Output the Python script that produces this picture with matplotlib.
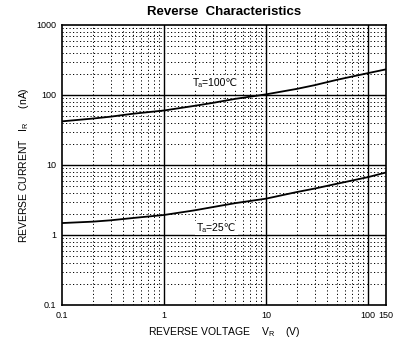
import matplotlib
matplotlib.use("Agg")
import matplotlib.pyplot as plt
import numpy as np

plt.rcParams['font.family'] = ['Liberation Sans', 'DejaVu Sans']
plt.rcParams['mathtext.fontset'] = 'custom'
plt.rcParams['mathtext.rm'] = 'Liberation Sans'

# reverse voltage (V)
vr = [0.1, 0.2, 0.3, 0.5, 1, 2, 3, 5, 10, 20, 30, 50, 100, 150]
# reverse current (nA)
ir_100 = [42, 46, 49, 54, 60, 70, 77, 88, 102, 122, 138, 165, 205, 232]
ir_25 = [1.48, 1.55, 1.62, 1.75, 1.93, 2.25, 2.5, 2.85, 3.3, 4.1, 4.6, 5.4, 6.7, 7.8]

xticks = [0.1, 1, 10, 100, 150]
xticklabels = ["0.1", "1", "10", "100", "150"]
yticks = [0.1, 1, 10, 100, 1000]
yticklabels = ["0.1", "1", "10", "100", "1000"]

fig = plt.figure(figsize=(4.10, 3.44), dpi=100)
ax = fig.add_axes([0.151, 0.1134, 0.790, 0.814])
ax.set_xscale('log')
ax.set_yscale('log')
ax.set_xlim(0.1, 150)
ax.set_ylim(0.1, 1000)

# grid: solid decades, dotted minors
for d in [1, 10, 100]:
    ax.axvline(d, color='black', lw=1.0, zorder=1)
for d in [1, 10, 100]:
    ax.axhline(d, color='black', lw=1.0, zorder=1)
minor_x = [m * d for d in [0.1, 1, 10, 100] for m in range(2, 10) if m * d < 150]
minor_y = [m * d for d in [0.1, 1, 10, 100] for m in range(2, 10)]
for v in minor_x:
    ax.axvline(v, color='black', lw=0.7, ls=(0, (1.2, 2.4)), zorder=1)
for v in minor_y:
    ax.axhline(v, color='black', lw=0.7, ls=(0, (1.2, 2.4)), zorder=1)

ax.plot(vr, ir_100, color='black', lw=1.3, zorder=3)
ax.plot(vr, ir_25, color='black', lw=1.3, zorder=3)

fam = ['Liberation Sans', 'DejaVu Sans']
ax.text(1.92, 148, 'Tₐ=100℃', fontsize=7.5, family=fam, va='center', ha='left', zorder=4,
        bbox=dict(facecolor='white', edgecolor='none', pad=1.5))
ax.text(2.1, 1.26, 'Tₐ=25℃', fontsize=7.5, family=fam, va='center', ha='left', zorder=4,
        bbox=dict(facecolor='white', edgecolor='none', pad=1.5))

ax.set_xticks(xticks)
ax.set_xticklabels(xticklabels)
ax.set_yticks(yticks)
ax.set_yticklabels(yticklabels)
ax.minorticks_off()
ax.tick_params(length=0, labelsize=6.5, pad=4)
for s in ax.spines.values():
    s.set_linewidth(1.2)

ax.set_xlabel(r'REVERSE VOLTAGE    V$_{\rm R}$    (V)', fontsize=7.5, labelpad=4)
ax.set_ylabel(r'REVERSE CURRENT   I$_{\rm R}$     (nA)', fontsize=7.5, labelpad=4)
ax.set_title('Reverse  Characteristics', fontsize=9.5, fontweight='bold', pad=7)

fig.savefig('out.png', dpi=100)
